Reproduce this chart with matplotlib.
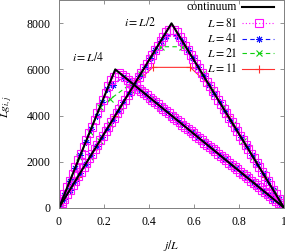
import numpy as np
import matplotlib
matplotlib.use("Agg")
import matplotlib.pyplot as plt

plt.rcParams['font.family'] = ['Liberation Serif', 'DejaVu Serif']
plt.rcParams['mathtext.fontset'] = 'stix'
plt.rcParams['font.size'] = 8.5

# continuum Green's function, source at L/2 and at L/4
cont_x_half = [0, 0.5, 1]
cont_half = [0, 8000, 0]
cont_x_quarter = [0, 0.25, 1]
cont_quarter = [0, 6000, 0]

# lattice results, L*g_{i,j}; the site j = i is left out
g81_half = [0, 195, 390, 585, 780, 976, 1171, 1366, 1561, 1756,
            1951, 2146, 2341, 2537, 2732, 2927, 3122, 3317, 3512, 3707,
            3902, 4098, 4293, 4488, 4683, 4878, 5073, 5268, 5463, 5659,
            5854, 6049, 6244, 6439, 6634, 6829, 7024, 7220, 7415, 7610,
            7725,
            7725,
            7610, 7415, 7220, 7024, 6829, 6634, 6439, 6244, 6049, 5854,
            5659, 5463, 5268, 5073, 4878, 4683, 4488, 4293, 4098, 3902,
            3707, 3512, 3317, 3122, 2927, 2732, 2537, 2341, 2146, 1951,
            1756, 1561, 1366, 1171, 976, 780, 585, 390, 195, 0]
g81_quarter = [0, 293, 585, 878, 1171, 1463, 1756, 2049, 2341, 2634,
               2927, 3220, 3512, 3805, 4098, 4390, 4683, 4976, 5268, 5561,
               5650,
               5830,
               5756, 5659, 5561, 5463, 5366, 5268, 5171, 5073, 4976, 4878,
               4780, 4683, 4585, 4488, 4390, 4293, 4195, 4098, 4000, 3902,
               3805, 3707, 3610, 3512, 3415, 3317, 3220, 3122, 3024, 2927,
               2829, 2732, 2634, 2537, 2439, 2341, 2244, 2146, 2049, 1951,
               1854, 1756, 1659, 1561, 1463, 1366, 1268, 1171, 1073, 976,
               878, 780, 683, 585, 488, 390, 293, 195, 98, 0]
g41_half = [0, 381, 762, 1143, 1524, 1905, 2286, 2667, 3048, 3429,
            3810, 4190, 4571, 4952, 5333, 5714, 6095, 6476, 6857, 7238,
            7470,
            7470,
            7238, 6857, 6476, 6095, 5714, 5333, 4952, 4571, 4190, 3810,
            3429, 3048, 2667, 2286, 1905, 1524, 1143, 762, 381, 0]
g41_quarter = [0, 571, 1143, 1714, 2286, 2857, 3429, 4000, 4571, 5143,
               5320,
               5670,
               5524, 5333, 5143, 4952, 4762, 4571, 4381, 4190, 4000, 3810,
               3619, 3429, 3238, 3048, 2857, 2667, 2476, 2286, 2095, 1905,
               1714, 1524, 1333, 1143, 952, 762, 571, 381, 190, 0]
g21_half = [0, 727, 1455, 2182, 2909, 3636, 4364, 5091, 5818, 6545, 6985,
            6985, 6545, 5818, 5091, 4364, 3636, 2909, 2182, 1455, 727, 0]
g21_quarter = [0, 1091, 2182, 3273, 4364, 4710,
               5370, 5091, 4727, 4364, 4000, 3636, 3273, 2909, 2545, 2182,
               1818, 1455, 1091, 727, 364, 0]
g11_half = [0, 1333, 2667, 4000, 5333, 6090,
            6090, 5333, 4000, 2667, 1333, 0]


def sites(L, skip):
    j = np.delete(np.arange(L + 2), skip)
    return j / (L + 1)


styles = {
    11: dict(color='#ff3030', ls='-', lw=0.8, marker='+', ms=6, mew=0.8),
    21: dict(color='#10d010', ls=(0, (4, 3)), lw=0.8, marker='x', ms=4.5, mew=0.8),
    41: dict(color='#1010ff', ls=(0, (4, 3)), lw=0.8, marker=(8, 2, 0), ms=5, mew=0.7),
    81: dict(color='#ff10ff', ls=(0, (1, 2)), lw=0.8, marker='s', ms=5.5, mew=0.8,
             mfc='none'),
}

fig = plt.figure(figsize=(2.85, 2.52), dpi=100)
ax = fig.add_axes([59 / 285, 1 - 207.7 / 252, 225 / 285, 207.4 / 252])

ax.plot(sites(11, 6), g11_half, **styles[11])
ax.plot(sites(21, 11), g21_half, **styles[21])
ax.plot(sites(21, 6), g21_quarter, **styles[21])
ax.plot(sites(41, 21), g41_half, **styles[41])
ax.plot(sites(41, 11), g41_quarter, **styles[41])
ax.plot(sites(81, 41), g81_half, **styles[81])
ax.plot(sites(81, 21), g81_quarter, **styles[81])
ax.plot(cont_x_half, cont_half, color='black', lw=1.5)
ax.plot(cont_x_quarter, cont_quarter, color='black', lw=1.5)

ax.set_xlim(0, 1)
ax.set_ylim(0, 9000)
ax.set_xticks([0, 0.2, 0.4, 0.6, 0.8, 1])
ax.set_xticklabels(['0', '0.2', '0.4', '0.6', '0.8', '1'])
ax.set_yticks([0, 2000, 4000, 6000, 8000])
ax.tick_params(direction='in', top=True, right=True, length=3,
               width=0.6, color='#808080')
ax.tick_params(axis='x', pad=6)
ax.tick_params(axis='y', pad=6)
for sp in ax.spines.values():
    sp.set_color('#808080')
    sp.set_linewidth(0.7)

ax.set_xlabel('$j/L$')
ax.xaxis.label.set_va('center')
ax.xaxis.set_label_coords(0.5, -0.182)
ax.set_ylabel('$Lg_{i,j}$')
ax.yaxis.label.set_va('center')
ax.yaxis.set_label_coords(-0.227, 0.486)

ax.text(0.131, 6538, '$i=L/4$', ha='center', va='center')
ax.text(0.362, 8035, '$i=L/2$', ha='center', va='center')

# key, drawn by hand so the labels sit right-aligned as in gnuplot
entries = [('continuum', dict(color='black', lw=1.5)),
           ('$L=81$', styles[81]), ('$L=41$', styles[41]),
           ('$L=21$', styles[21]), ('$L=11$', styles[11])]
key_y = [0.969, 0.889, 0.815, 0.744, 0.670]
for (label, st), yk in zip(entries, key_y):
    ax.text(0.792, yk, label, transform=ax.transAxes, ha='right', va='center')
    line = {k: v for k, v in st.items() if k not in ('marker', 'ms', 'mew', 'mfc')}
    ax.plot([0.813, 0.955], [yk, yk], transform=ax.transAxes, clip_on=False, **line)
    if 'marker' in st:
        mk = {k: v for k, v in st.items() if k in ('color', 'marker', 'ms', 'mew', 'mfc')}
        ax.plot([0.89], [yk], transform=ax.transAxes, ls='none', clip_on=False, **mk)

fig.savefig('out.png', dpi=100)
